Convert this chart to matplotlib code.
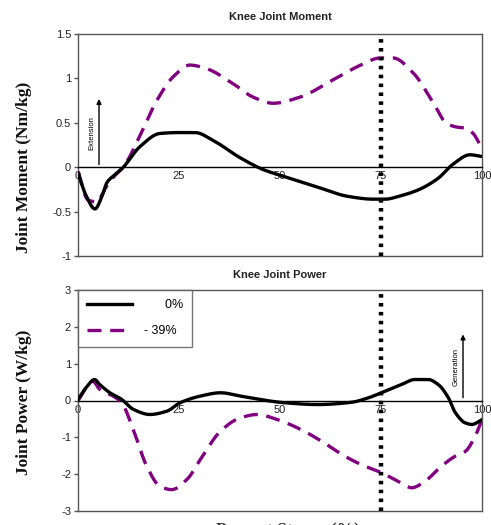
import matplotlib
matplotlib.use("Agg")
import matplotlib.pyplot as plt
import numpy as np
from matplotlib.lines import Line2D

# ---- data ----
m0_x = [0, 2, 4.2, 6, 7.2, 9, 11.2, 15.3, 20.3, 25, 29, 33.5, 40, 46, 50, 59, 67, 73, 76, 80, 84, 89, 93, 97, 100]
m0_y = [-0.06, -0.32, -0.47, -0.32, -0.17, -0.09, 0.0, 0.23, 0.38, 0.39, 0.39, 0.30, 0.11, -0.03, -0.09, -0.22, -0.33, -0.36, -0.36, -0.32, -0.26, -0.13, 0.04, 0.14, 0.12]

m39_x = [0, 2.5, 4.6, 7, 9, 11.2, 15.3, 19.5, 23.6, 27.7, 31.8, 38.4, 43.3, 48.3, 55, 63, 70, 74.8, 78, 83, 88, 91.3, 94, 96, 97.8, 100]
m39_y = [-0.05, -0.37, -0.39, -0.22, -0.1, 0.0, 0.35, 0.75, 1.02, 1.15, 1.11, 0.94, 0.79, 0.72, 0.79, 0.98, 1.15, 1.23, 1.23, 1.06, 0.72, 0.49, 0.45, 0.44, 0.38, 0.21]

p0_x = [0, 2, 4.1, 5.4, 7.9, 10.8, 13.7, 17.8, 22, 25.3, 30.3, 35.3, 40.2, 46, 51, 59.3, 67.6, 71.8, 75.1, 80, 83.4, 86.7, 89.2, 91.7, 93.4, 95.9, 97.5, 100]
p0_y = [0.03, 0.35, 0.57, 0.43, 0.21, 0.03, -0.24, -0.38, -0.29, -0.06, 0.12, 0.21, 0.12, 0.01, -0.06, -0.11, -0.05, 0.07, 0.21, 0.43, 0.57, 0.57, 0.43, 0.07, -0.33, -0.61, -0.65, -0.52]

p39_x = [0, 3.7, 5.4, 8.7, 10.8, 13.7, 17, 20.3, 23.2, 27, 30.3, 35.3, 40.2, 44.4, 49.4, 55.2, 60.2, 66, 70.1, 75.1, 80, 82.6, 85.9, 90, 93.4, 95.9, 98.3, 100]
p39_y = [0.0, 0.52, 0.3, 0.12, -0.06, -0.79, -1.78, -2.33, -2.42, -2.14, -1.6, -0.83, -0.47, -0.38, -0.52, -0.79, -1.1, -1.51, -1.74, -1.96, -2.24, -2.37, -2.19, -1.78, -1.51, -1.38, -0.97, -0.52]

x_ticks = [0, 25, 50, 75, 100]
m_yticks = [-1, -0.5, 0, 0.5, 1, 1.5]
m_ylabels = ["-1", "-0.5", "0", "0.5", "1", "1.5"]
p_yticks = [-3, -2, -1, 0, 1, 2, 3]
stance_mark = 75
labels = ["0%", "- 39%"]


def smooth(x, y, n=400):
    x = np.asarray(x, float); y = np.asarray(y, float)
    xs = np.linspace(x[0], x[-1], n)
    h = np.diff(x); d = np.diff(y) / h
    m = np.zeros_like(y)
    for i in range(1, len(y) - 1):
        if d[i - 1] * d[i] > 0:
            w1 = 2 * h[i] + h[i - 1]; w2 = h[i] + 2 * h[i - 1]
            m[i] = (w1 + w2) / (w1 / d[i - 1] + w2 / d[i])
    m[0] = d[0]; m[-1] = d[-1]
    idx = np.clip(np.searchsorted(x, xs) - 1, 0, len(h) - 1)
    t = (xs - x[idx]) / h[idx]
    h00 = 2 * t**3 - 3 * t**2 + 1; h10 = t**3 - 2 * t**2 + t
    h01 = -2 * t**3 + 3 * t**2; h11 = t**3 - t**2
    ys = h00 * y[idx] + h10 * h[idx] * m[idx] + h01 * y[idx + 1] + h11 * h[idx] * m[idx + 1]
    return xs, ys


fig = plt.figure(figsize=(4.91, 5.25), dpi=100)
fig.patch.set_facecolor("white")

L, R = 78 / 491, 482 / 491
ax1 = fig.add_axes([L, 1 - 256 / 525, R - L, (256 - 34) / 525])
ax2 = fig.add_axes([L, 1 - 511 / 525, R - L, (511 - 290) / 525])

purple = "#800080"
frame = "#555555"
serif = ["Liberation Serif", "DejaVu Serif"]
sans = ["Liberation Sans", "DejaVu Sans"]


def style(ax, yticks, ylabels, ylim, title, ylabel, tpad):
    ax.set_xlim(0, 100)
    ax.set_ylim(*ylim)
    for s in ax.spines.values():
        s.set_color(frame)
        s.set_linewidth(1.0)
    ax.spines["bottom"].set_position(("data", 0))
    ax.spines["bottom"].set_color("black")
    ax.plot([0, 1], [0, 0], transform=ax.transAxes, color=frame, lw=1.0, clip_on=False)
    ax.set_xticks(x_ticks)
    ax.set_xticklabels([str(v) for v in x_ticks], fontsize=8, family=sans, color="#222222")
    ax.tick_params(axis="x", length=0, pad=3)
    ax.set_yticks(yticks)
    ax.set_yticklabels(ylabels, fontsize=8, family=sans, color="#222222")
    ax.tick_params(axis="y", length=3, width=1, color=frame, pad=2)
    ax.set_title(title, fontsize=8, family=sans, fontweight="bold", pad=tpad, color="#222222")
    ax.set_ylabel(ylabel, fontsize=12.5, family=serif, fontweight="bold", color="#111111")
    ax.axvline(stance_mark, color="black", lw=3.2, linestyle=(0, (0.8, 1.2)), zorder=5)


style(ax1, m_yticks, m_ylabels, (-1, 1.5), "Knee Joint Moment", "Joint Moment (Nm/kg)", 10)
style(ax2, p_yticks, [str(v) for v in p_yticks], (-3, 3), "Knee Joint Power", "Joint Power (W/kg)", 8.5)
ax1.yaxis.set_label_coords(-0.115, 0.40)
ax2.yaxis.set_label_coords(-0.115, 0.49)

dash = (0, (4.2, 2.6))
xs, ys = smooth(m0_x, m0_y)
ax1.plot(xs, ys, color="black", lw=2.4, zorder=4, solid_capstyle="butt")
xs, ys = smooth(m39_x, m39_y)
ax1.plot(xs, ys, color=purple, lw=2.4, linestyle=dash, zorder=3)

xs, ys = smooth(p0_x, p0_y)
ax2.plot(xs, ys, color="black", lw=2.4, zorder=4)
xs, ys = smooth(p39_x, p39_y)
ax2.plot(xs, ys, color=purple, lw=2.4, linestyle=dash, zorder=3)

# annotation arrows
ax1.annotate("", xy=(5.2, 0.8), xytext=(5.2, 0), arrowprops=dict(arrowstyle="-|>", color="black", lw=1, mutation_scale=7))
ax1.text(3.4, 0.38, "Extension", rotation=90, fontsize=5.5, family=sans, ha="center", va="center")
ax2.annotate("", xy=(95.3, 1.87), xytext=(95.3, 0), arrowprops=dict(arrowstyle="-|>", color="black", lw=1, mutation_scale=7))
ax2.text(93.7, 0.92, "Generation", rotation=90, fontsize=5.5, family=sans, ha="center", va="center")

handles = [Line2D([], [], color="black", lw=2.4), Line2D([], [], color=purple, lw=2.4, linestyle=dash)]
leg = ax2.legend(handles, ["      " + labels[0], labels[1]], loc="upper left",
                 prop={"family": sans, "size": 9}, frameon=True, fancybox=False,
                 borderaxespad=0.0, handlelength=3.6, borderpad=0.75, labelspacing=1.1, handletextpad=0.9)
leg.get_frame().set_edgecolor(frame)
leg.get_frame().set_linewidth(1.0)

fig.text(288 / 491, 1 - 522 / 525, "Percent Stance (%)", fontsize=12.5, family=serif, fontweight="bold",
         ha="center", va="top", color="#333333")

fig.savefig("out.png", dpi=100, facecolor="white")
